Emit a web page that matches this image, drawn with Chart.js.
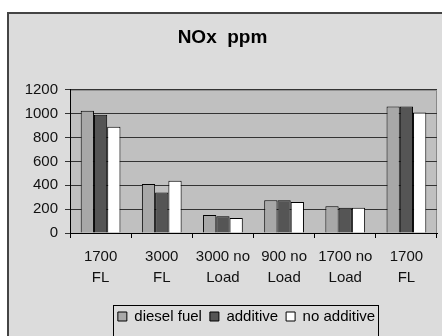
<!DOCTYPE html>
<html>
<head>
<meta charset="utf-8">
<script src="https://cdn.jsdelivr.net/npm/chart.js@4"></script>
<style>
  html, body { margin: 0; padding: 0; background: #fff; }
  #wrap { width: 442px; height: 336px; }
</style>
</head>
<body>
<div id="wrap"><canvas id="nox"></canvas></div>
<script>
const labels = [['1700', 'FL'], ['3000', 'FL'], ['3000 no', 'Load'], ['900 no', 'Load'], ['1700 no', 'Load'], ['1700', 'FL']];
const dieselFuel = [1025, 410, 150, 275, 225, 1060];
const additive = [990, 340, 140, 275, 212, 1060];
const noAdditive = [890, 438, 125, 260, 212, 1010];
const yTicks = [0, 200, 400, 600, 800, 1000, 1200];

const FONT = 'Liberation Sans, Arial, sans-serif';

// background of the chart object, plot area and legend frame
const frame = {
    id: 'frame',
    beforeDraw(chart) {
        const ctx = chart.ctx, a = chart.chartArea;
        ctx.save();
        ctx.fillStyle = '#fff';
        ctx.fillRect(0, 0, chart.width, chart.height);
        ctx.fillStyle = '#dcdcdc';
        ctx.fillRect(7, 12, chart.width, chart.height);
        ctx.strokeStyle = '#444';
        ctx.lineWidth = 2;
        ctx.beginPath();
        ctx.moveTo(8, chart.height + 2);
        ctx.lineTo(8, 13);
        ctx.lineTo(chart.width + 2, 13);
        ctx.stroke();
        ctx.fillStyle = '#c0c0c0';
        ctx.fillRect(a.left, a.top, a.right - a.left, a.bottom - a.top);
        ctx.strokeStyle = '#888';
        ctx.lineWidth = 1;
        ctx.beginPath();
        ctx.moveTo(a.left, a.top + 0.5);
        ctx.lineTo(a.right - 0.5, a.top + 0.5);
        ctx.lineTo(a.right - 0.5, a.bottom);
        ctx.stroke();
        ctx.restore();
    },
    afterLayout(chart) {
        chart.legend.left -= 7;
        chart.legend.right -= 7;
    },
    afterDraw(chart) {
        const boxes = chart.legend.legendHitBoxes;
        if (!boxes.length) return;
        const first = boxes[0], last = boxes[boxes.length - 1];
        const ctx = chart.ctx;
        ctx.save();
        ctx.strokeStyle = '#000';
        ctx.lineWidth = 1;
        ctx.strokeRect(Math.round(first.left) - 4.5, 305.5, Math.round(last.left + last.width - first.left) + 8, 40);
        ctx.restore();
    }
};

new Chart(document.getElementById('nox'), {
    type: 'bar',
    data: {
        labels,
        datasets: [
            { label: 'diesel fuel', data: dieselFuel, backgroundColor: '#a8a8a8' },
            { label: 'additive', data: additive, backgroundColor: '#555555' },
            { label: 'no additive', data: noAdditive, backgroundColor: '#ffffff' }
        ].map(d => Object.assign(d, {
            borderColor: '#000',
            borderWidth: 1,
            categoryPercentage: 0.65,
            barPercentage: 1
        }))
    },
    options: {
        responsive: true,
        maintainAspectRatio: false,
        animation: false,
        layout: { padding: { left: 8, top: 12, right: 5, bottom: 2 } },
        plugins: {
            title: {
                display: true,
                text: 'NOx  ppm',
                color: '#000',
                font: { family: FONT, size: 19, weight: 'bold', lineHeight: 1.2 },
                padding: { top: 14, bottom: 41 }
            },
            legend: {
                position: 'bottom',
                fullSize: false,
                labels: {
                    color: '#000',
                    font: { family: FONT, size: 15 },
                    boxWidth: 9,
                    boxHeight: 9,
                    padding: 8
                }
            },
            tooltip: { enabled: false }
        },
        scales: {
            x: {
                afterFit(scale) { scale.height = 68; },
                grid: {
                    offset: true,
                    drawOnChartArea: false,
                    color: '#000',
                    tickLength: 5
                },
                border: { color: '#000', width: 1 },
                ticks: {
                    color: '#111',
                    padding: 8,
                    maxRotation: 0,
                    autoSkip: false,
                    font: { family: FONT, size: 15, lineHeight: 1.4 }
                }
            },
            y: {
                min: 0,
                max: 1200,
                afterFit(scale) { scale.width = 62; },
                afterBuildTicks(scale) { scale.ticks = yTicks.map(v => ({ value: v })); },
                grid: {
                    color: '#333',
                    tickLength: 5
                },
                border: { color: '#000', width: 1 },
                ticks: {
                    color: '#111',
                    padding: 7,
                    font: { family: FONT, size: 15 },
                    callback: v => String(v)
                }
            }
        }
    },
    plugins: [frame]
});
</script>
</body>
</html>
